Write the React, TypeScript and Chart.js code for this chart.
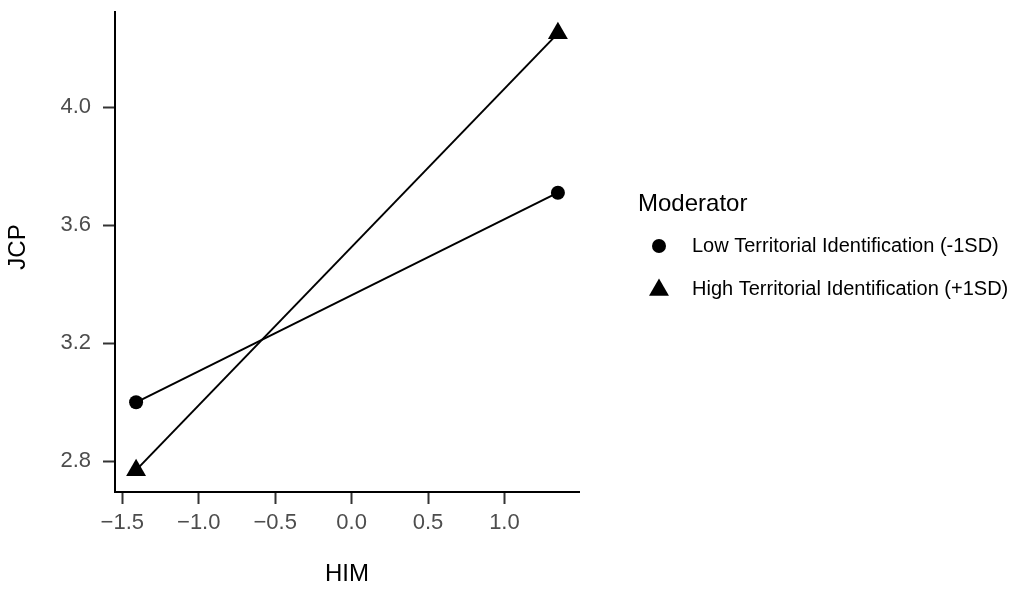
import React, { useEffect, useRef } from 'react';
import { Chart, registerables } from 'chart.js';

Chart.register(...registerables);

const himLevels = [-1.41, 1.35];
const lowIdentification = [3.0, 3.71];
const highIdentification = [2.77, 4.25];
const xTickValues = [-1.5, -1.0, -0.5, 0.0, 0.5, 1.0];
const yTickValues = [2.8, 3.2, 3.6, 4.0];
const seriesNames = ['Low Territorial Identification (-1SD)', 'High Territorial Identification (+1SD)'];
const seriesShapes = ['circle', 'triangle'];
const legendTitle = 'Moderator';
const xAxisTitle = 'HIM';
const yAxisTitle = 'JCP';

const FONT = '"Liberation Sans", Arial, Helvetica, sans-serif';

function expand(values: number[]) {
  const lo = Math.min(...values);
  const hi = Math.max(...values);
  const pad = (hi - lo) * 0.05;
  return [lo - pad, hi + pad];
}

function fmt(v: number) {
  return v.toFixed(1).replace('-', '\u2212');
}

function drawMarker(ctx: CanvasRenderingContext2D, shape: string, x: number, y: number) {
  ctx.beginPath();
  if (shape === 'circle') {
    ctx.arc(x, y, 7, 0, Math.PI * 2);
  } else {
    const r = 11.5;
    for (let k = 0; k < 3; k++) {
      const a = (k * 2 * Math.PI) / 3;
      const px = x + Math.sin(a) * r;
      const py = y - Math.cos(a) * r;
      if (k === 0) ctx.moveTo(px, py);
      else ctx.lineTo(px, py);
    }
    ctx.closePath();
  }
  ctx.fill();
}

export default function App() {
  const ref = useRef<HTMLCanvasElement>(null);

  useEffect(() => {
    document.body.style.margin = '0';
    const canvas = ref.current;
    if (!canvas) return;
    const [xMin, xMax] = expand(himLevels);
    const [yMin, yMax] = expand([...lowIdentification, ...highIdentification]);

    const legendPlugin = {
      id: 'ggLegend',
      afterDraw(chart: any) {
        const ctx = chart.ctx as CanvasRenderingContext2D;
        ctx.save();
        ctx.fillStyle = '#000000';
        ctx.textBaseline = 'middle';
        ctx.textAlign = 'left';
        ctx.font = `24px ${FONT}`;
        ctx.fillText(legendTitle, 638, 204);
        ctx.font = `20px ${FONT}`;
        seriesNames.forEach((name, i) => {
          const cy = 246 + i * 43;
          drawMarker(ctx, seriesShapes[i], 659, cy + (i === 1 ? 1 : 0));
          ctx.fillText(name, 692, cy);
        });
        // y axis title
        ctx.save();
        ctx.translate(18, 247);
        ctx.rotate(-Math.PI / 2);
        ctx.textAlign = 'center';
        ctx.font = `24px ${FONT}`;
        ctx.fillText(yAxisTitle, 0, 0);
        ctx.restore();
        ctx.restore();
      },
    };

    const datasets = [lowIdentification, highIdentification].map((vals, i) => ({
      label: seriesNames[i],
      data: himLevels.map((x, j) => ({ x, y: vals[j] })),
      borderColor: '#000000',
      borderWidth: 2,
      backgroundColor: '#000000',
      pointBackgroundColor: '#000000',
      pointBorderWidth: 0,
      pointStyle: seriesShapes[i],
      pointRadius: i === 0 ? 7 : 11.5,
      pointHoverRadius: i === 0 ? 7 : 11.5,
      fill: false,
      tension: 0,
    }));

    const chart = new Chart(canvas, {
      type: 'line',
      data: { datasets },
      plugins: [legendPlugin],
      options: {
        animation: false,
        responsive: false,
        events: [],
        layout: { padding: { top: 8, right: 439, bottom: 0, left: 0 } },
        plugins: { legend: { display: false }, tooltip: { enabled: false } },
        scales: {
          x: {
            type: 'linear',
            min: xMin,
            max: xMax,
            afterBuildTicks: (s: any) => {
              s.ticks = xTickValues.map((value) => ({ value }));
            },
            afterFit: (s: any) => {
              s.height = 97;
              s.paddingLeft = 0;
              s.paddingRight = 0;
              s.paddingTop = 0;
              s.paddingBottom = 0;
            },
            ticks: {
              callback: (v: any) => fmt(Number(v)),
              font: { size: 22, family: FONT },
              color: '#4D4D4D',
              padding: 6,
              maxRotation: 0,
              autoSkip: false,
            },
            grid: {
              display: true,
              drawOnChartArea: false,
              drawTicks: true,
              tickLength: 12,
              tickColor: '#333333',
              tickWidth: 2,
            },
            border: { display: true, color: '#000000', width: 2 },
            title: {
              display: true,
              text: xAxisTitle,
              color: '#000000',
              font: { size: 24, family: FONT, lineHeight: 1 },
              padding: { top: 0, bottom: 3 },
            },
          },
          y: {
            type: 'linear',
            min: yMin,
            max: yMax,
            afterBuildTicks: (s: any) => {
              s.ticks = yTickValues.map((value) => ({ value }));
            },
            afterFit: (s: any) => {
              s.width = 115;
              s.paddingLeft = 0;
              s.paddingRight = 0;
              s.paddingTop = 0;
              s.paddingBottom = 0;
            },
            ticks: {
              callback: (v: any) => fmt(Number(v)),
              font: { size: 22, family: FONT },
              color: '#4D4D4D',
              padding: 12,
              autoSkip: false,
            },
            grid: {
              display: true,
              drawOnChartArea: false,
              drawTicks: true,
              tickLength: 12,
              tickColor: '#333333',
              tickWidth: 2,
            },
            border: { display: true, color: '#000000', width: 2 },
            title: { display: false, text: yAxisTitle },
          },
        },
      },
    } as any);

    return () => chart.destroy();
  }, []);

  return (
    <div style={{ width: 1018, height: 589 }}>
      <canvas ref={ref} width={1018} height={589} style={{ display: 'block' }} />
    </div>
  );
}
